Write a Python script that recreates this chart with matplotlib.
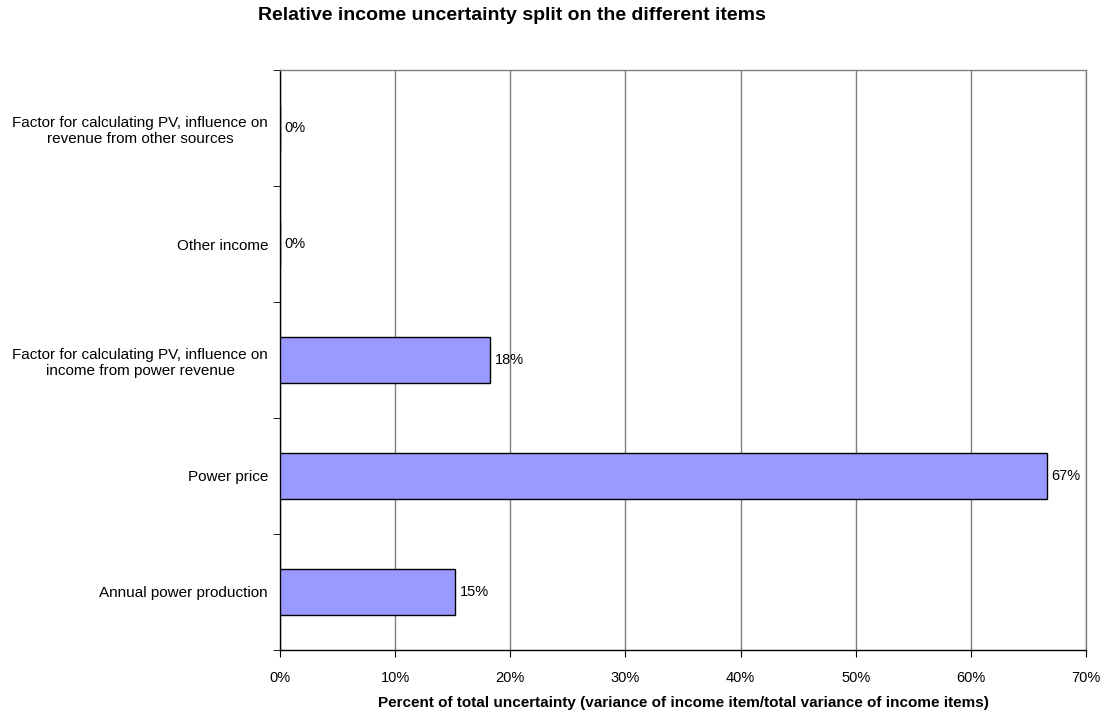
import matplotlib
matplotlib.use("Agg")
import matplotlib.pyplot as plt
import numpy as np

plt.rcParams['font.family'] = ['Liberation Sans', 'DejaVu Sans']

categories = [
    "Annual power production",
    "Power price",
    "Factor for calculating PV, influence on\nincome from power revenue",
    "Other income",
    "Factor for calculating PV, influence on\nrevenue from other sources",
]
values = [15.2, 66.6, 18.2, 0.0, 0.0]
value_labels = ["15%", "67%", "18%", "0%", "0%"]
xticks = [0, 10, 20, 30, 40, 50, 60, 70]
xtick_labels = ["0%", "10%", "20%", "30%", "40%", "50%", "60%", "70%"]

fig = plt.figure(figsize=(11.08, 7.19), dpi=100)
ax = fig.add_axes([280/1108, 1-650/719, (1086-280)/1108, (650-70)/719])

y = np.arange(len(categories))
ax.barh(y, values, height=0.4, color="#9999FF", edgecolor="black", linewidth=1, zorder=3)
for yi, v, lab in zip(y, values, value_labels):
    ax.annotate(lab, (v, yi), xytext=(3.5, 0), textcoords="offset points",
                va="center", ha="left", fontsize=10.5)

ax.set_xlim(0, 70)
ax.set_ylim(-0.5, len(categories) - 0.5)
ax.set_xticks(xticks)
ax.set_xticklabels(xtick_labels, fontsize=10.5)
ax.set_yticks(y)
ax.set_yticklabels(categories, fontsize=11, multialignment="center")
ax.set_yticks(np.arange(-0.5, len(categories), 1), minor=True)
ax.tick_params(axis="y", which="major", length=0, pad=8.6)
ax.tick_params(axis="y", which="minor", length=5, direction="out", color="black")
ax.tick_params(axis="x", which="major", length=5, direction="out", color="black", pad=10)
ax.xaxis.grid(True, color="#808080", linewidth=1, zorder=0)
ax.set_axisbelow(True)
for s in ["left", "bottom"]:
    ax.spines[s].set_color("black")
    ax.spines[s].set_linewidth(1)
for s in ["top", "right"]:
    ax.spines[s].set_color("#808080")
    ax.spines[s].set_linewidth(1)

ax.set_xlabel("Percent of total uncertainty (variance of income item/total variance of income items)",
              fontsize=11, fontweight="bold", labelpad=8)
fig.text(512/1108, 1-15/719, "Relative income uncertainty split on the different items",
         ha="center", va="center", fontsize=14, fontweight="bold")

fig.savefig("out.png", dpi=100, facecolor="white")
